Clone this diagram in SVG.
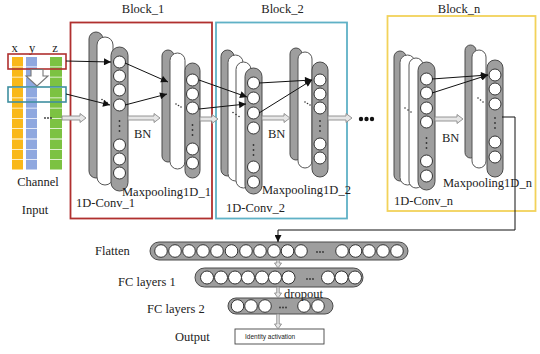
<svg xmlns="http://www.w3.org/2000/svg" width="540" height="354" viewBox="0 0 540 354">
  <defs>
    <marker id="ah" viewBox="0 0 10 10" refX="10" refY="5" markerWidth="8" markerHeight="7" markerUnits="userSpaceOnUse" orient="auto">
      <path d="M0,0 L10,5 L0,10 Z" fill="#111"/>
    </marker>
  </defs>
  <style>
    text { font-family: "Liberation Serif", "Times New Roman", serif; font-size: 12.5px; fill: #222; }
    .small { font-family: "Liberation Sans", Arial, sans-serif; font-size: 6.5px; }
    .gp { fill: #9e9e9e; stroke: #4a4a4a; stroke-width: 1; }
    .wp { fill: #ffffff; stroke: #555; stroke-width: 1; }
    .nd { fill: #ffffff; stroke: #333; stroke-width: 1; }
    .dot { fill: #333; }
    .ln { stroke: #111; stroke-width: 1; fill: none; marker-end: url(#ah); }
    .ha { fill: #e6e6e6; stroke: #8a8a8a; stroke-width: 0.9; }
    .blk { fill: none; stroke-width: 1.8; }
  </style>
  <rect width="540" height="354" fill="#ffffff"/>

  <!-- block frames -->
  <g id="block1">
    <rect class="blk" x="70.5" y="22.5" width="141.5" height="196" stroke="#b0302f"/>
    <text x="143" y="13" text-anchor="middle">Block_1</text>
  </g>
  <g id="block2">
    <rect class="blk" x="216" y="22.5" width="131" height="196" stroke="#5fb1c6"/>
    <text x="282.5" y="13" text-anchor="middle">Block_2</text>
  </g>
  <g id="blockn">
    <rect class="blk" x="387.5" y="16" width="148" height="195" stroke="#f2d25a"/>
    <text x="459" y="13" text-anchor="middle">Block_n</text>
  </g>

  <!-- input channels -->
  <g id="input">
    <text x="14.5" y="52" text-anchor="middle">x</text>
    <text x="32" y="52" text-anchor="middle">y</text>
    <text x="55" y="52" text-anchor="middle">z</text>
    <line x1="17.5" y1="57" x2="17.5" y2="170" stroke="#f9b81a" stroke-width="11" stroke-dasharray="9.5 0.8"/>
    <line x1="31.5" y1="57" x2="31.5" y2="170" stroke="#8fa8df" stroke-width="11" stroke-dasharray="9.5 0.8"/>
    <line x1="56" y1="57" x2="56" y2="170" stroke="#7cc242" stroke-width="12" stroke-dasharray="9.5 0.8"/>
    <rect x="8" y="54" width="58" height="15" fill="none" stroke="#b0302f" stroke-width="1.6"/>
    <rect x="8" y="87" width="58" height="15" fill="none" stroke="#3f8fa0" stroke-width="1.6"/>
    <path d="M31,69.5 H43 V76 H48 L37,86 L26,76 H31 Z" fill="#ffffff" stroke="#777" stroke-width="1.1"/>
    <circle class="dot" cx="45" cy="118" r="0.9"/>
    <circle class="dot" cx="48" cy="118" r="0.9"/>
    <circle class="dot" cx="51" cy="118" r="0.9"/>
    <text x="38" y="186" text-anchor="middle">Channel</text>
    <text x="35" y="214" text-anchor="middle">Input</text>
  </g>

  <!-- block 1: convolution layer -->
  <g id="conv1">
    <rect class="gp" x="89" y="32" width="14" height="146" rx="7"/>
    <rect class="wp" x="97" y="37" width="16" height="148" rx="8"/>
    <rect class="gp" x="111" y="47" width="17" height="144" rx="8.5"/>
    <circle class="nd" cx="119.5" cy="62" r="6"/>
    <circle class="nd" cx="119.5" cy="76" r="6"/>
    <circle class="nd" cx="119.5" cy="90" r="6"/>
    <circle class="nd" cx="119.5" cy="105" r="6"/>
    <circle class="nd" cx="119.5" cy="145" r="6"/>
    <circle class="nd" cx="119.5" cy="159" r="6"/>
    <circle class="nd" cx="119.5" cy="173" r="6"/>
    <circle class="dot" cx="119.5" cy="121" r="0.9"/>
    <circle class="dot" cx="119.5" cy="126" r="0.9"/>
    <circle class="dot" cx="119.5" cy="131" r="0.9"/>
    <circle class="dot" cx="102" cy="99.5" r="0.8"/>
    <circle class="dot" cx="104.5" cy="101" r="0.8"/>
    <circle class="dot" cx="107" cy="102.5" r="0.8"/>
    <text x="76" y="207">1D-Conv_1</text>
  </g>

  <!-- block 1: pooling layer -->
  <g id="pool1">
    <rect class="gp" x="162" y="50" width="12" height="112" rx="6"/>
    <rect class="wp" x="170" y="53" width="15" height="116" rx="7.5"/>
    <rect class="gp" x="185" y="63" width="15" height="115" rx="7.5"/>
    <circle class="nd" cx="192.5" cy="80" r="6"/>
    <circle class="nd" cx="192.5" cy="94" r="6"/>
    <circle class="nd" cx="192.5" cy="108" r="6"/>
    <circle class="nd" cx="192.5" cy="149" r="6"/>
    <circle class="nd" cx="192.5" cy="163" r="6"/>
    <circle class="dot" cx="192.5" cy="125" r="0.9"/>
    <circle class="dot" cx="192.5" cy="130" r="0.9"/>
    <circle class="dot" cx="192.5" cy="135" r="0.9"/>
    <circle class="dot" cx="176" cy="104" r="0.8"/>
    <circle class="dot" cx="178.5" cy="105.5" r="0.8"/>
    <circle class="dot" cx="181" cy="107" r="0.8"/>
    <text x="134" y="138">BN</text>
    <text x="122" y="196">Maxpooling1D_1</text>
  </g>

  <!-- block 2: convolution layer -->
  <g id="conv2">
    <rect class="gp" x="221" y="50" width="13" height="126" rx="6.5"/>
    <rect class="wp" x="228" y="55" width="15" height="126" rx="7.5"/>
    <rect class="wp" x="236" y="62" width="15" height="126" rx="7.5"/>
    <rect class="gp" x="245" y="68" width="17" height="126" rx="8.5"/>
    <circle class="nd" cx="253.5" cy="83" r="6"/>
    <circle class="nd" cx="253.5" cy="98" r="6"/>
    <circle class="nd" cx="253.5" cy="113" r="6"/>
    <circle class="nd" cx="253.5" cy="128" r="6"/>
    <circle class="nd" cx="253.5" cy="167" r="6"/>
    <circle class="nd" cx="253.5" cy="182" r="6"/>
    <circle class="dot" cx="253.5" cy="145" r="0.9"/>
    <circle class="dot" cx="253.5" cy="150" r="0.9"/>
    <circle class="dot" cx="253.5" cy="155" r="0.9"/>
    <circle class="dot" cx="233" cy="112.5" r="0.8"/>
    <circle class="dot" cx="236" cy="114.5" r="0.8"/>
    <circle class="dot" cx="239" cy="116.5" r="0.8"/>
    <text x="226" y="212">1D-Conv_2</text>
  </g>

  <!-- block 2: pooling layer -->
  <g id="pool2">
    <rect class="gp" x="290" y="48" width="12" height="112" rx="6"/>
    <rect class="wp" x="298" y="52" width="14" height="116" rx="7"/>
    <rect class="gp" x="312" y="62" width="16" height="115" rx="8"/>
    <circle class="nd" cx="320" cy="80" r="6"/>
    <circle class="nd" cx="320" cy="94" r="6"/>
    <circle class="nd" cx="320" cy="108" r="6"/>
    <circle class="nd" cx="320" cy="144" r="6"/>
    <circle class="nd" cx="320" cy="158" r="6"/>
    <circle class="dot" cx="320" cy="121" r="0.9"/>
    <circle class="dot" cx="320" cy="126" r="0.9"/>
    <circle class="dot" cx="320" cy="131" r="0.9"/>
    <circle class="dot" cx="305" cy="102" r="0.8"/>
    <circle class="dot" cx="307.5" cy="103.5" r="0.8"/>
    <circle class="dot" cx="310" cy="105" r="0.8"/>
    <text x="268" y="138">BN</text>
    <text x="262" y="194">Maxpooling1D_2</text>
  </g>

  <!-- further blocks -->
  <g id="more">
    <circle cx="361" cy="119" r="2.2" fill="#111"/>
    <circle cx="366.5" cy="119" r="2.2" fill="#111"/>
    <circle cx="372" cy="119" r="2.2" fill="#111"/>
  </g>

  <!-- block n: convolution layer -->
  <g id="convn">
    <rect class="gp" x="394" y="51" width="12" height="130" rx="6"/>
    <rect class="wp" x="400" y="55" width="15" height="130" rx="7.5"/>
    <rect class="wp" x="409" y="58" width="14" height="130" rx="7"/>
    <rect class="gp" x="418" y="62" width="17" height="128" rx="8.5"/>
    <circle class="nd" cx="426.5" cy="79" r="6"/>
    <circle class="nd" cx="426.5" cy="93" r="6"/>
    <circle class="nd" cx="426.5" cy="108" r="6"/>
    <circle class="nd" cx="426.5" cy="122" r="6"/>
    <circle class="nd" cx="426.5" cy="161" r="6"/>
    <circle class="nd" cx="426.5" cy="176" r="6"/>
    <circle class="dot" cx="426.5" cy="138" r="0.9"/>
    <circle class="dot" cx="426.5" cy="143" r="0.9"/>
    <circle class="dot" cx="426.5" cy="148" r="0.9"/>
    <circle class="dot" cx="405" cy="108" r="0.8"/>
    <circle class="dot" cx="408" cy="110" r="0.8"/>
    <circle class="dot" cx="411" cy="112" r="0.8"/>
    <text x="394" y="205">1D-Conv_n</text>
  </g>

  <!-- block n: pooling layer -->
  <g id="pooln">
    <rect class="gp" x="465" y="45" width="11" height="113" rx="5.5"/>
    <rect class="wp" x="472" y="50" width="14" height="118" rx="7"/>
    <rect class="gp" x="487" y="60" width="16" height="117" rx="8"/>
    <circle class="nd" cx="495" cy="75" r="6"/>
    <circle class="nd" cx="495" cy="89" r="6"/>
    <circle class="nd" cx="495" cy="104" r="6"/>
    <circle class="nd" cx="495" cy="142" r="6"/>
    <circle class="nd" cx="495" cy="157" r="6"/>
    <circle class="dot" cx="495" cy="118" r="0.9"/>
    <circle class="dot" cx="495" cy="123" r="0.9"/>
    <circle class="dot" cx="495" cy="128" r="0.9"/>
    <circle class="dot" cx="478" cy="98" r="0.8"/>
    <circle class="dot" cx="480.5" cy="100" r="0.8"/>
    <circle class="dot" cx="483" cy="102" r="0.8"/>
    <text x="442" y="142">BN</text>
    <text x="443" y="187">Maxpooling1D_n</text>
  </g>

  <!-- dense part -->
  <g id="flatten">
    <text x="95" y="255">Flatten</text>
    <rect class="gp" x="150" y="242" width="258" height="18" rx="9"/>
    <g class="nd">
      <circle cx="161" cy="251" r="6.3"/><circle cx="175" cy="251" r="6.3"/><circle cx="189" cy="251" r="6.3"/>
      <circle cx="203" cy="251" r="6.3"/><circle cx="217" cy="251" r="6.3"/><circle cx="231.5" cy="251" r="6.3"/>
      <circle cx="246" cy="251" r="6.3"/><circle cx="260" cy="251" r="6.3"/><circle cx="274" cy="251" r="6.3"/>
      <circle cx="287.5" cy="251" r="6.3"/><circle cx="301" cy="251" r="6.3"/>
      <circle cx="342" cy="251" r="6.3"/><circle cx="355.5" cy="251" r="6.3"/><circle cx="369" cy="251" r="6.3"/>
      <circle cx="383" cy="251" r="6.3"/><circle cx="397" cy="251" r="6.3"/>
    </g>
    <circle class="dot" cx="317" cy="252" r="0.9"/><circle class="dot" cx="320" cy="252" r="0.9"/><circle class="dot" cx="323" cy="252" r="0.9"/>
  </g>
  <g id="fc1">
    <text x="118" y="286">FC layers 1</text>
    <rect class="gp" x="195" y="268" width="168" height="19" rx="9.5"/>
    <g class="nd">
      <circle cx="207" cy="277.5" r="6.5"/><circle cx="221" cy="277.5" r="6.5"/><circle cx="235" cy="277.5" r="6.5"/>
      <circle cx="248" cy="277.5" r="6.5"/><circle cx="262" cy="277.5" r="6.5"/><circle cx="275" cy="277.5" r="6.5"/>
      <circle cx="288.5" cy="277.5" r="6.5"/>
      <circle cx="328" cy="277.5" r="6.5"/><circle cx="341.5" cy="277.5" r="6.5"/><circle cx="355" cy="277.5" r="6.5"/>
    </g>
    <circle class="dot" cx="307" cy="279" r="0.9"/><circle class="dot" cx="310" cy="279" r="0.9"/><circle class="dot" cx="313" cy="279" r="0.9"/>
  </g>
  <g id="fc2">
    <text x="147" y="313">FC layers 2</text>
    <rect class="gp" x="228" y="298" width="105" height="16" rx="8"/>
    <g class="nd">
      <circle cx="237.5" cy="306" r="6.3"/><circle cx="251" cy="306" r="6.3"/><circle cx="265" cy="306" r="6.3"/>
      <circle cx="304" cy="306" r="6.3"/><circle cx="318" cy="306" r="6.3"/>
    </g>
    <circle class="dot" cx="280" cy="307.5" r="0.9"/><circle class="dot" cx="283" cy="307.5" r="0.9"/><circle class="dot" cx="286" cy="307.5" r="0.9"/>
  </g>
  <g id="output">
    <text x="175" y="341">Output</text>
    <rect x="235" y="329" width="89" height="15" fill="#ffffff" stroke="#444" stroke-width="0.9"/>
    <text class="small" x="245" y="338.5">Identity activation</text>
  </g>
  <text x="284" y="298">dropout</text>

  <!-- connectors -->
  <g id="connectors">
    <line class="ln" x1="66" y1="61" x2="111" y2="62"/>
    <line class="ln" x1="66" y1="94" x2="110" y2="105"/>
    <line class="ln" x1="125" y1="63" x2="168" y2="82"/>
    <line class="ln" x1="125" y1="105" x2="167" y2="94"/>
    <line class="ln" x1="199" y1="80" x2="247" y2="97"/>
    <line class="ln" x1="199" y1="109" x2="246" y2="104"/>
    <line class="ln" x1="259" y1="83" x2="312" y2="80"/>
    <line class="ln" x1="259" y1="113" x2="312" y2="80"/>
    <line class="ln" x1="432" y1="79" x2="488" y2="75"/>
    <line class="ln" x1="432" y1="93" x2="488" y2="75"/>
    <polyline class="ln" points="502,117 515,117 515,230 278,230 278,242" stroke-width="1.4"/>

    <path class="ha" d="M62,116 H80 V113.5 L86,118 L80,122.5 V120 H62 Z"/>
    <path class="ha" d="M128,116 H154 V113.5 L160,118 L154,122.5 V120 H128 Z"/>
    <path class="ha" d="M200,117 H212 V114.5 L218,119 L212,123.5 V121 H200 Z"/>
    <path class="ha" d="M262,116 H284 V113.5 L290,118 L284,122.5 V120 H262 Z"/>
    <path class="ha" d="M328,116 H346 V113.5 L352,118 L346,122.5 V120 H328 Z"/>
    <path class="ha" d="M435,117 H457 V114.5 L463,119 L457,123.5 V121 H435 Z"/>

    <path class="ha" d="M276.8,260 V263 H274.5 L278,268 L281.5,263 H279.2 V260 Z"/>
    <path class="ha" d="M276.8,287 V293 H274.5 L278,298 L281.5,293 H279.2 V287 Z"/>
    <path class="ha" d="M276.8,314 V324 H274.5 L278,329 L281.5,324 H279.2 V314 Z"/>
  </g>
</svg>
